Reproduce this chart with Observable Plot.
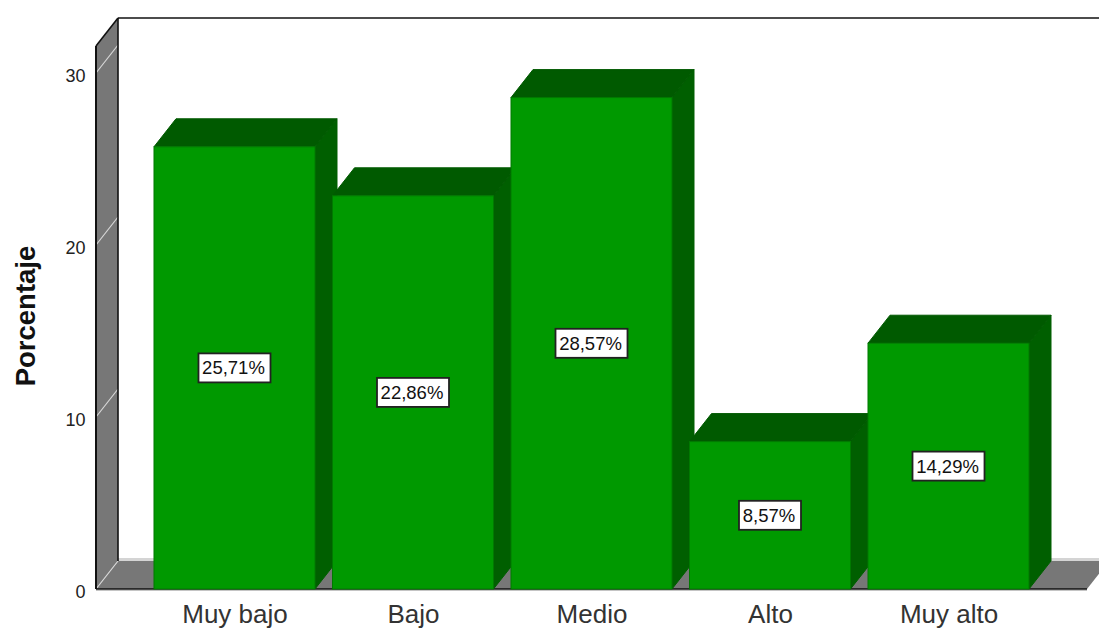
<!DOCTYPE html>
<html>
<head>
<meta charset="utf-8">
<script src="https://cdn.jsdelivr.net/npm/d3@7"></script>
<script src="https://cdn.jsdelivr.net/npm/@observablehq/plot@0.6"></script>
<style>
  html, body { margin: 0; padding: 0; background: #fff; }
  svg { display: block; }
</style>
</head>
<body>
<div id="chart"></div>
<script>
// Share of respondents per level
const categories = ["Muy bajo", "Bajo", "Medio", "Alto", "Muy alto"];
const percentages = [25.71, 22.86, 28.57, 8.57, 14.29];
const yTicks = [0, 10, 20, 30];
const yTitle = "Porcentaje";

const rows = categories.map((level, i) => ({level, pct: percentages[i]}));
const pctLabel = (v) => v.toFixed(2).replace(".", ",") + "%";

// Oblique projection used for the 3D look, in pixels
const depthX = 22, depthY = -28;
const yMax = 31.57;

const colors = {
  front: "#009900", frontEdge: "#007a00",
  side: "#005f00", top: "#005a00",
  wall: "#777777", ink: "#111111", grid: "#d8d8d8", sill: "#d4d4d4"
};

const polygon = (g, pts, fill, stroke) =>
  g.append("polygon")
    .attr("points", pts.map((p) => p.join(",")).join(" "))
    .attr("fill", fill)
    .attr("stroke", stroke ?? "none");

const segment = (g, a, b, stroke, width = 1.6) =>
  g.append("line")
    .attr("x1", a[0]).attr("y1", a[1]).attr("x2", b[0]).attr("y2", b[1])
    .attr("stroke", stroke).attr("stroke-width", width);

// Side wall, floor and the outline of the chart box
function chartBox(index, {y}, values, {width, marginLeft}) {
  const g = d3.create("svg:g");
  const left = marginLeft, y0 = y(0), yTop = y(yMax);
  const floorEnd = 1087;

  polygon(g, [[left, y0], [left + depthX, y0 + depthY], [floorEnd + depthX, y0 + depthY], [floorEnd, y0]], colors.wall);
  g.append("rect").attr("x", left + depthX).attr("y", y0 + depthY - 3)
    .attr("width", width).attr("height", 3).attr("fill", colors.sill);
  polygon(g, [[left, y0], [left + depthX, y0 + depthY], [left + depthX, yTop + depthY], [left, yTop]], colors.wall);

  for (const t of yTicks) {
    segment(g, [left, y(t)], [left + depthX, y(t) + depthY], colors.grid, 1.2);
  }

  segment(g, [left, y0 + 1.5], [floorEnd, y0 + 1.5], "#c4c4c4", 1);
  segment(g, [left, yTop], [left, y0], colors.ink, 2);
  segment(g, [left, yTop], [left + depthX, yTop + depthY], colors.ink);
  segment(g, [left + depthX, yTop + depthY], [left + depthX, y0 + depthY], colors.ink);
  segment(g, [left + depthX, yTop + depthY], [width, yTop + depthY], colors.ink);
  segment(g, [left, y0], [floorEnd, y0], colors.ink);
  return g.node();
}

// Top and right faces of each bar, stacked left to right
function barDepth(index, {x, y}) {
  const g = d3.create("svg:g");
  const w = x.bandwidth();
  for (const d of rows) {
    const l = x(d.level), r = l + w, t = y(d.pct), b = y(0);
    polygon(g, [[r, b], [r + depthX, b + depthY], [r + depthX, t + depthY], [r, t]], colors.side, colors.side);
    polygon(g, [[l, t], [l + depthX, t + depthY], [r + depthX, t + depthY], [r, t]], colors.top, colors.top);
  }
  return g.node();
}

// White value boxes centred on each bar
function valueBoxes(index, {x, y}) {
  const g = d3.create("svg:g");
  for (const d of rows) {
    const text = pctLabel(d.pct);
    const cx = x(d.level) + x.bandwidth() / 2, cy = y(d.pct / 2);
    const bw = text.length === 6 ? 72 : 62, bh = 29;
    g.append("rect")
      .attr("x", cx - bw / 2).attr("y", cy - bh / 2)
      .attr("width", bw).attr("height", bh)
      .attr("fill", "#fff").attr("stroke", "#222").attr("stroke-width", 1.8);
    g.append("text")
      .attr("x", cx - 1).attr("y", cy).attr("dy", "0.35em")
      .attr("text-anchor", "middle").attr("font-size", 18.5).attr("fill", "#111")
      .text(text);
  }
  return g.node();
}

const chart = Plot.plot({
  width: 1099,
  height: 630,
  marginLeft: 96,
  marginRight: 0,
  marginTop: 0,
  marginBottom: 41,
  style: {fontFamily: "'Liberation Sans', Arial, sans-serif", background: "#fff"},
  x: {domain: categories, range: [136.5, 1046.5], padding: 0.098, round: false, axis: null},
  y: {domain: [0, yMax], range: [589, 46], axis: null},
  marks: [
    chartBox,
    barDepth,
    Plot.barY(rows, {x: "level", y: "pct", fill: colors.front, stroke: colors.frontEdge, strokeWidth: 1}),
    valueBoxes,
    Plot.axisY({ticks: yTicks, tickSize: 0, tickPadding: 11, label: null, fontSize: 18, color: "#222", dy: 3}),
    Plot.axisX({anchor: "bottom", tickSize: 0, tickPadding: 15, label: null, fontSize: 26, color: "#333"}),
    Plot.text([yTitle], {
      frameAnchor: "left", dx: -70, y: () => 15.9, rotate: -90, textAnchor: "middle",
      fontSize: 27.5, fontWeight: "bold", fill: "#111"
    })
  ]
});

document.getElementById("chart").append(chart);
</script>
</body>
</html>
